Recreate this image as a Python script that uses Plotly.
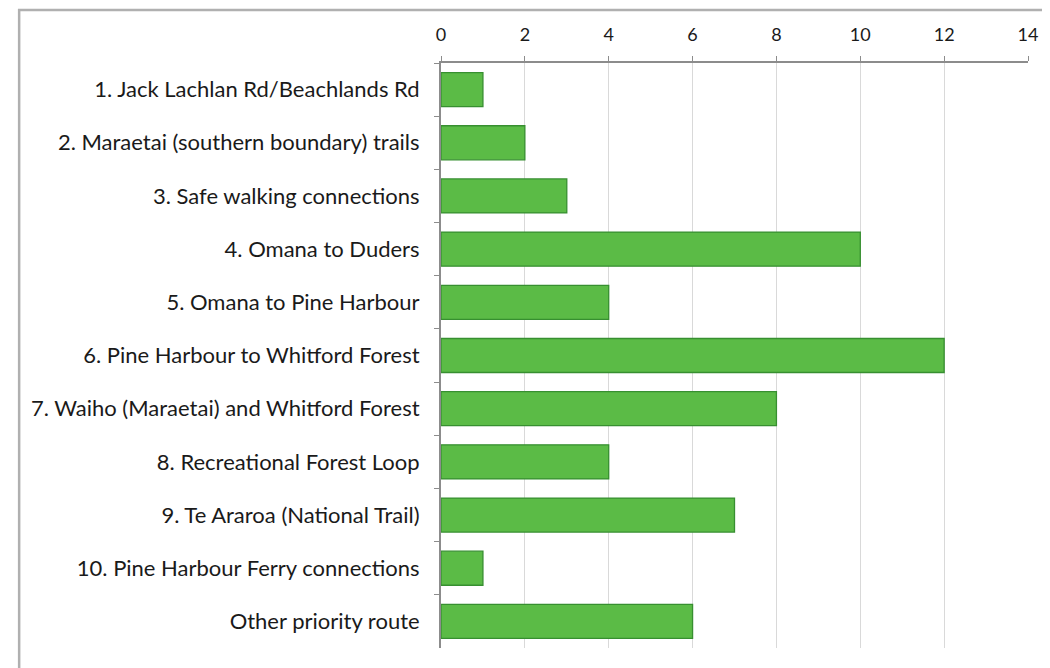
import plotly.graph_objects as go

categories = [
    "1. Jack Lachlan Rd/Beachlands Rd",
    "2. Maraetai (southern boundary) trails",
    "3. Safe walking connections",
    "4. Omana to Duders",
    "5. Omana to Pine Harbour",
    "6. Pine Harbour to Whitford Forest",
    "7. Waiho (Maraetai) and Whitford Forest",
    "8. Recreational Forest Loop",
    "9. Te Araroa (National Trail)",
    "10. Pine Harbour Ferry connections",
    "Other priority route",
]
values = [1, 2, 3, 10, 4, 12, 8, 4, 7, 1, 6]
tick_vals = [0, 2, 4, 6, 8, 10, 12, 14]

fig = go.Figure(go.Bar(
    x=values, y=categories, orientation="h",
    marker=dict(color="#5BBB46", line=dict(color="#378F30", width=1.3)),
    width=0.64,
))

# page body has an 8px margin; figure origin sits at (8, 8) in the window
OFF = 8
W, H = 1050 - OFF, 668 - OFF
L = 441 - OFF
T = 63 - OFF
R = W - (1031 - OFF)
B = H - (648 - OFF)
pw, ph = W - L - R, H - T - B

def px_x(x):
    return (x - OFF - L) / pw

def px_y(y):
    return (H - B - (y - OFF)) / ph

fig.update_layout(
    width=W, height=H,
    margin=dict(l=L, r=R, t=T, b=B),
    paper_bgcolor="white", plot_bgcolor="white",
    font=dict(family="Lato, Open Sans, sans-serif", size=22, color="#1a1a1a"),
    showlegend=False,
    bargap=0.36,
    xaxis=dict(
        side="top", range=[0, 14], tickvals=tick_vals,
        showgrid=True, gridcolor="#D9D9D9", gridwidth=1,
        showline=True, linecolor="#8C8C8C", linewidth=2,
        ticks="outside", ticklen=5, tickcolor="#8C8C8C",
        ticklabelstandoff=8, zeroline=False,
        tickfont=dict(size=18),
    ),
    yaxis=dict(
        autorange="reversed", type="category",
        showline=True, linecolor="#8C8C8C", linewidth=2,
        ticks="outside", ticklen=5, tickcolor="#8C8C8C", tickson="boundaries",
        ticklabelstandoff=15, showgrid=False,
    ),
    shapes=[dict(
        type="rect", xref="paper", yref="paper",
        x0=px_x(17), x1=px_x(1070),
        y0=px_y(690), y1=px_y(10),
        line=dict(color="#B0B0B0", width=2.5), fillcolor="rgba(0,0,0,0)", layer="below",
    )],
)

fig.write_html("out.html")
